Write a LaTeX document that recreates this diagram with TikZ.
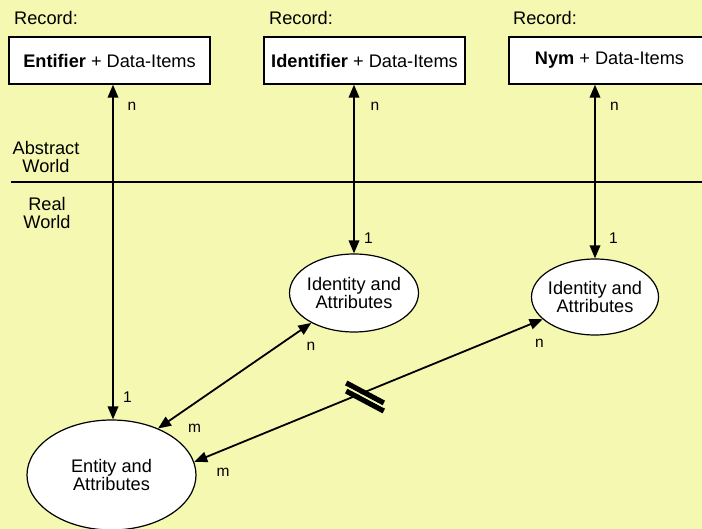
\documentclass[tikz,border=0pt]{standalone}
\usepackage{fontspec}
\setmainfont{Liberation Sans}
\usetikzlibrary{arrows.meta,shapes.geometric}
\definecolor{bg}{RGB}{244,248,176}
\begin{document}
\begin{tikzpicture}[x=1pt,y=-1pt,
  rec/.style={draw,line width=1.3pt,fill=white,minimum width=201pt,minimum height=47pt,inner sep=0pt,font=\fontsize{18.2}{20}\selectfont},
  ell/.style={draw,ellipse,line width=1.2pt,fill=white,inner xsep=-3pt,inner ysep=0pt,align=center,font=\fontsize{18.2}{18.5}\selectfont},
  lbl/.style={font=\fontsize{18.2}{18.8}\selectfont,inner sep=0pt,align=center},
  card/.style={font=\fontsize{15.5}{15.5}\selectfont,inner sep=0pt},
  conn/.style={line width=1.8pt,{Triangle[length=13pt,width=10.5pt]}-{Triangle[length=13pt,width=10.5pt]}},
  brk/.style={line width=5.3pt,line cap=butt}
]
\useasboundingbox (0,0) rectangle (702,529);
\fill[bg] (0,0) rectangle (702,529);
\clip (0,0) rectangle (702,529);

% record labels
\node[lbl,anchor=base west] (r1) at (14,25) {Record:};
\node[lbl,anchor=base west] (r2) at (269,25) {Record:};
\node[lbl,anchor=base west] (r3) at (513,25) {Record:};

% record boxes
\node[rec] (b1) at (109.5,60.5) {\textbf{Entifier} + Data-Items};
\node[rec] (b2) at (364.5,60.5) {\textbf{Identifier} + Data-Items};
\node[rec] (b3) at (609.5,60.5) {\textbf{Nym} + Data-Items};

% world divider
\coordinate (hl) at (11,182);
\coordinate (hr) at (702,182);
\draw[line width=1.5pt] (hl) -- (hr);
\node[lbl] (aw) at (46,157) {Abstract\\World};
\node[lbl] (rw) at (47,213) {Real\\World};

% ellipses
\node[ell,minimum width=129pt,minimum height=78pt] (i1) at (354,293) {Identity and\\Attributes};
\node[ell,minimum width=127pt,minimum height=76pt] (i2) at (595,297) {Identity and\\Attributes};
\node[ell,minimum width=169pt,minimum height=110pt] (en) at (111.5,475) {Entity and\\Attributes};

% connectors
\draw[conn] ([xshift=3.5pt]b1.south) -- ([xshift=1.5pt]en.north);
\draw[conn] (b2.south -| i1.north) -- (i1.north);
\draw[conn] (b3.south -| i2.north) -- (i2.north);
\draw[conn] (i1.215) -- (en.45);
\draw[conn] (i2.203) -- (en.9);

% break marks
\draw[brk] (346.2,383) -- (383.8,403);
\draw[brk] (346.2,391) -- (383.8,411);
\draw[bg,line width=1.5pt] (346.2,387) -- (383.8,407);

% cardinalities
\node[card] (c1) at (132,106) {n};
\node[card] (c2) at (375,106) {n};
\node[card] (c3) at (614.5,106) {n};
\node[card] (c4) at (368.5,238.5) {1};
\node[card] (c5) at (613.5,238) {1};
\node[card] (c6) at (127.5,397.5) {1};
\node[card] (c7) at (311,346) {n};
\node[card] (c8) at (539.5,343) {n};
\node[card] (c9) at (194.5,428.5) {m};
\node[card] (c10) at (223,472) {m};
\end{tikzpicture}
\end{document}
